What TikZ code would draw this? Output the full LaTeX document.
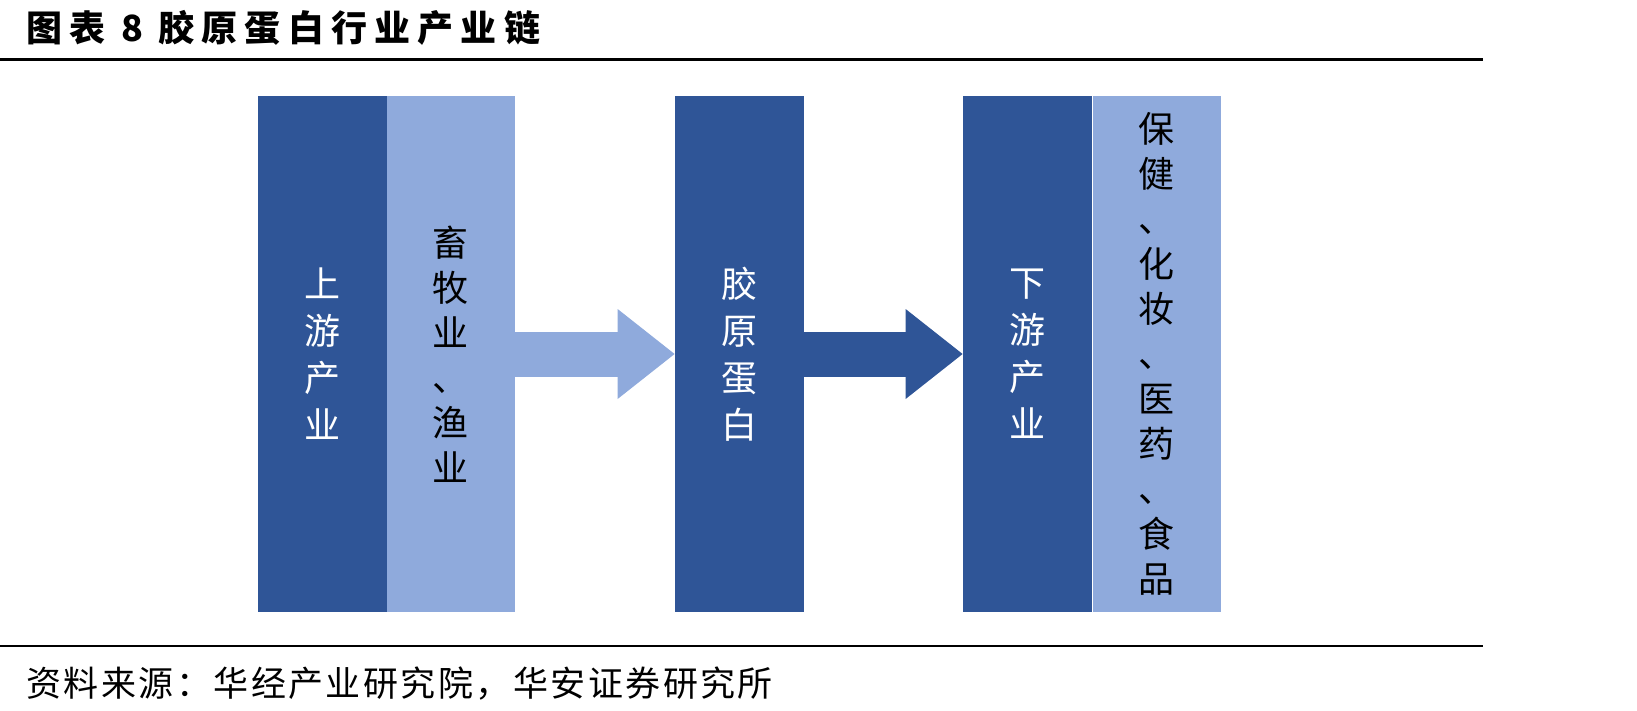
\documentclass[tikz,border=0pt]{standalone}
\usepackage{fontspec}
\usepackage{xcolor}
\usepackage{tikz}
\usetikzlibrary{arrows.meta}
\newfontfamily\cjk{Noto Sans CJK SC}
\definecolor{darkblue}{HTML}{2F5597}
\definecolor{lightblue}{HTML}{8FAADC}

\begin{document}
\begin{tikzpicture}[x=0.5pt, y=-0.5pt,
    box/.style={rectangle, inner sep=0pt, minimum height=258pt, minimum width=64.5pt, text width=40pt, align=center, font=\cjk\fontsize{18pt}{23.5pt}\selectfont},
    darkbox/.style={box, fill=darkblue, text=white},
    lightbox/.style={box, fill=lightblue, text=black, minimum width=64pt, font=\cjk\fontsize{18pt}{22.5pt}\selectfont},
    flow/.style={line width=22.5pt, -{Triangle[length=28.5pt, width=45pt, line width=0pt]}}]

    \useasboundingbox (0,0) rectangle (1637,711);

    \node[anchor=west, inner sep=0pt, font=\cjk\bfseries\fontsize{18pt}{18pt}\selectfont\addfontfeature{LetterSpace=20}] (title) at (26,28) {图表~8~胶原蛋白行业产业链};
    \draw[line width=1.25pt] (0,59.5) -- (1483,59.5);

    \node[darkbox] (upstream) at (322,354) {上\\游\\产\\业};
    \node[lightbox, right of=upstream, node distance=64.25pt] (farming) {畜\\牧\\业\\、\\渔\\业};
    \node[darkbox, right of=farming, node distance=144.5pt] (collagen) {胶\\原\\蛋\\白};
    \node[darkbox, right of=collagen, node distance=144pt] (downstream) {下\\游\\产\\业};
    \node[lightbox, right of=downstream, node distance=64.5pt] (uses) {保\\健\\、\\化\\妆\\、\\医\\药\\、\\食\\品};

    \draw[flow, lightblue] (farming.east) -- (collagen.west);
    \draw[flow, darkblue] (collagen.east) -- (downstream.west);

    \draw[line width=1.25pt] (0,646) -- (1483,646);
    \node[anchor=west, inner sep=0pt, font=\cjk\fontsize{17.5pt}{17.5pt}\selectfont\addfontfeature{LetterSpace=7}] (source) at (26,684) {资料来源：华经产业研究院，华安证券研究所};
\end{tikzpicture}
\end{document}
